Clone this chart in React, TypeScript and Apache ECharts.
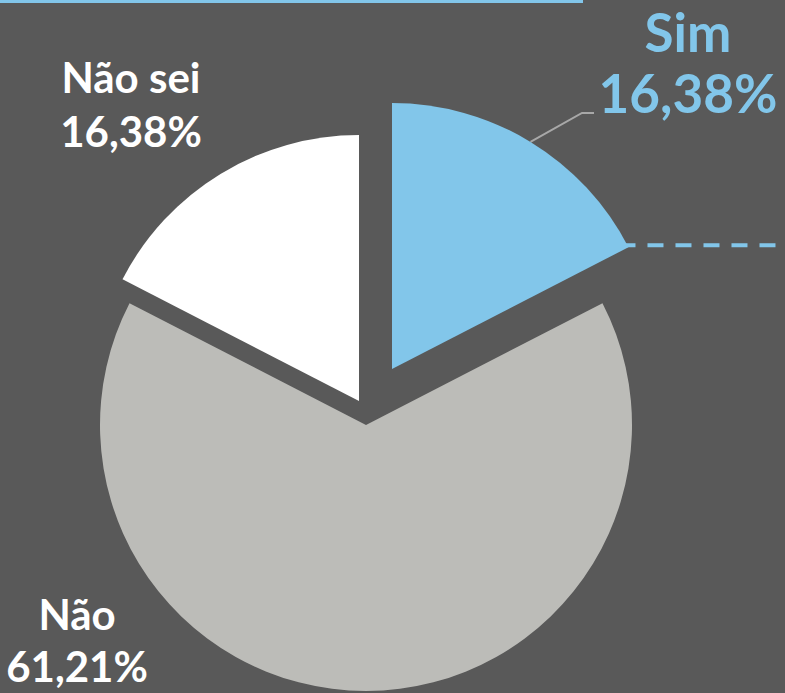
import React, { useEffect, useRef } from 'react';
import * as echarts from 'echarts';

const categories = ['Sim', 'Não', 'Não sei'];
const values = [16.38, 61.21, 16.38];
const sliceColors = ['#82c6ea', '#bcbcb8', '#ffffff'];
const labelColors = ['#82c6ea', '#ffffff', '#ffffff'];

const W = 785;
const H = 693;
const BG = '#595959';
const BLUE = '#82c6ea';
const RADIUS = 266;
const CENTERS: number[][] = [[392, 369], [366, 425], [359, 401]];
// label block: centre x, top y
const LABEL_POS: number[][] = [[688, 5], [77, 587], [131, 50]];
const LABEL_FONT = [53, 42, 42];
// line heights of the name line and of the percentage line
const LABEL_LH: number[][] = [[52, 70], [54, 50], [54, 53]];
const FONT = 'Lato, "Noto Sans", sans-serif';

const fmt = (v: number) => v.toFixed(2).replace('.', ',') + '%';

export default function App() {
  const ref = useRef<HTMLDivElement>(null);
  useEffect(() => {
    if (!ref.current) return;
    const chart = echarts.init(ref.current, null, { renderer: 'svg' });
    const total = values.reduce((a, b) => a + b, 0);
    const toRad = Math.PI / 180;
    // geometry of the first (Sim) slice
    const simEnd = (values[0] / total) * 360 * toRad;
    const simMid = simEnd / 2;
    const [scx, scy] = CENTERS[0];
    const lineStart = [scx + RADIUS * Math.sin(simMid), scy - RADIUS * Math.cos(simMid)];
    const dashStart = [scx + RADIUS * Math.sin(simEnd), scy - RADIUS * Math.cos(simEnd)];

    const series = categories.map((_, i) => {
      const base = {
        color: labelColors[i],
        fontSize: LABEL_FONT[i],
        fontFamily: FONT,
        fontWeight: 'bold',
        align: 'center',
      };
      return {
        type: 'pie',
        center: CENTERS[i],
        radius: RADIUS,
        startAngle: 90,
        clockwise: true,
        silent: true,
        avoidLabelOverlap: false,
        emphasis: { disabled: true },
        z: 2,
        itemStyle: { borderWidth: 0 },
        data: categories.map((name, j) => ({
          name,
          value: values[j],
          itemStyle: { color: j === i ? sliceColors[j] : 'rgba(0,0,0,0)', borderWidth: 0 },
          label: { show: j === i },
          labelLine: { show: j === i && i === 0 },
        })),
        label: {
          position: 'outside',
          ...base,
          formatter: (p: any) => `{a|${p.name}}\n{b|${fmt(p.value)}}`,
          rich: {
            a: { ...base, lineHeight: LABEL_LH[i][0] },
            b: { ...base, lineHeight: LABEL_LH[i][1] },
          },
        },
        labelLine: {
          lineStyle: { color: '#a8a8a8', width: 2 },
          length: 20,
          length2: 10,
        },
        labelLayout: (p: any) => {
          if (p.dataIndex !== i) return {};
          const res: any = {
            x: LABEL_POS[i][0],
            y: LABEL_POS[i][1],
            align: 'center',
            verticalAlign: 'top',
          };
          if (i === 0) {
            res.labelLinePoints = [lineStart, [582, 113], [594, 113]];
          }
          return res;
        },
      };
    });

    chart.setOption({
      animation: false,
      backgroundColor: BG,
      graphic: [
        {
          type: 'rect',
          z: 1,
          shape: { x: 0, y: 0, width: 583, height: 3 },
          style: { fill: BLUE },
        },
        {
          type: 'line',
          z: 1,
          shape: { x1: dashStart[0] - 9, y1: dashStart[1] - 2, x2: W, y2: dashStart[1] - 2 },
          style: { stroke: BLUE, lineWidth: 4, lineDash: [16, 12] },
        },
      ],
      series,
    });
    return () => chart.dispose();
  }, []);
  return (
    <div
      ref={ref}
      style={{ position: 'fixed', left: 0, top: 0, width: W, height: H, background: BG }}
    />
  );
}
